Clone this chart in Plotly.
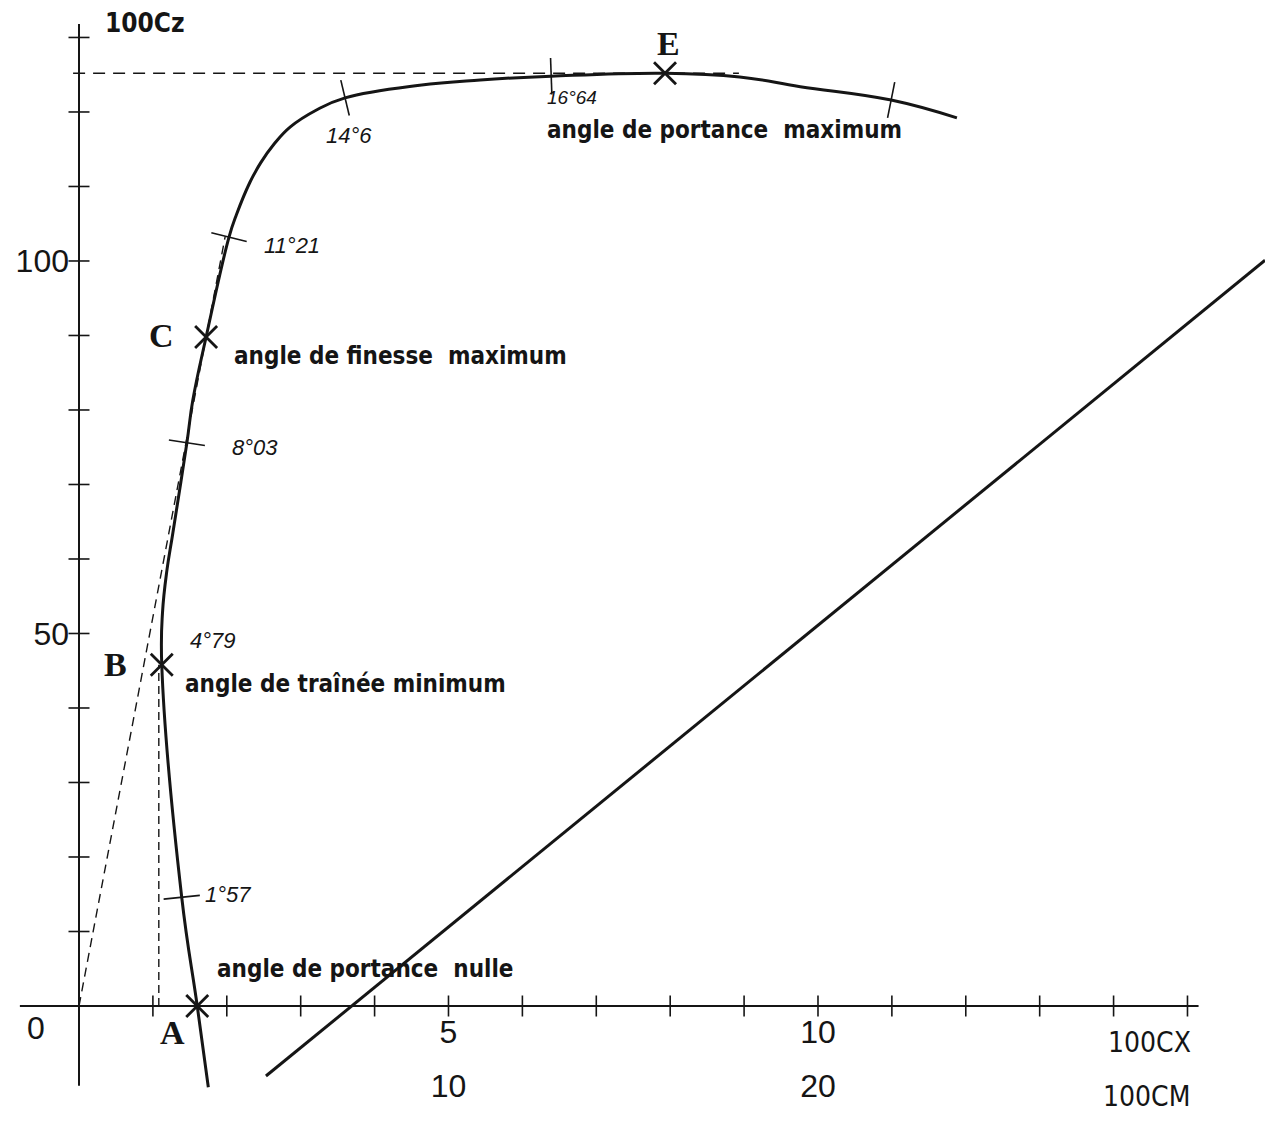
import numpy as np
import plotly.graph_objects as go

# ---------------- data ----------------
# polar curve : 100 Cx (drag) vs 100 Cz (lift)
cx = [1.75, 1.60, 1.39, 1.12, 1.13, 1.19, 1.27, 1.46, 1.54, 1.72, 2.03, 2.13, 2.31,
      2.46, 2.64, 2.86, 3.22, 3.60, 4.61, 5.43, 6.39, 7.93, 8.94, 9.76, 10.99, 11.88]
cz = [-10.9, 0.0, 14.6, 45.8, 52.8, 58.5, 63.5, 75.6, 81.3, 89.8, 103.2, 106.2, 110.5,
      113.2, 115.7, 118.0, 120.3, 121.9, 123.6, 124.3, 124.8, 125.2, 124.7, 123.4, 121.6, 119.2]

# incidence graduations on the polar
tick_cx = [1.39, 1.46, 2.03, 3.60, 6.39, 10.99]
tick_cz = [14.6, 75.6, 103.2, 121.9, 124.8, 121.6]
tick_labels = ["1°57", "8°03", "11°21", "14°6", "16°64", ""]

# remarkable points
pt_names = ["A", "B", "C", "E"]
pt_cx = [1.60, 1.12, 1.72, 7.93]
pt_cz = [0.0, 45.8, 89.8, 125.2]
pt_desc = ["angle de portance  nulle", "angle de traînée minimum",
           "angle de finesse  maximum", "angle de portance  maximum"]
label_479 = "4°79"

# moment line : 100 Cm vs 100 Cz
cm_line = [5.06, 32.1]
cz_line = [-9.4, 100.1]

# axes ticks
x_ticks = list(range(1, 16))
y_ticks = list(range(10, 140, 10))
x_lab_vals, x_lab_text = [5, 10], ["5", "10"]
m_lab_vals, m_lab_text = [10, 20], ["10", "20"]
y_lab_vals, y_lab_text = [50, 100], ["50", "100"]

# ---------------- layout geometry ----------------
W, H = 1265, 1129
xr = [-1.069, 16.049]
yr = [-16.51, 135.03]
sx = W / (xr[1] - xr[0])
sy = H / (yr[1] - yr[0])
xaxis_pos = (0 - yr[0]) / (yr[1] - yr[0])
yaxis_pos = (0 - xr[0]) / (xr[1] - xr[0])

INK = "#151515"
NUM_FONT = "Liberation Sans, Arial, sans-serif"
LETTER_FONT = "DejaVu Sans Condensed, DejaVu Sans"
HAND_FONT = "Liberation Sans, DejaVu Sans"
SERIF = "Liberation Serif, DejaVu Serif"

fig = go.Figure()

# axis lines
fig.add_shape(type="line", xref="x", yref="y", x0=-0.8, x1=15.15, y0=0, y1=0,
              line=dict(color=INK, width=2))
fig.add_shape(type="line", xref="x", yref="y", x0=0, x1=0, y0=-10.7, y1=131.8,
              line=dict(color=INK, width=2))

# tick marks crossing the axes
fig.add_trace(go.Scatter(x=x_ticks, y=[0] * len(x_ticks), mode="markers",
                         marker=dict(symbol="line-ns", size=15, line=dict(color=INK, width=1.6)),
                         hoverinfo="skip"))
fig.add_trace(go.Scatter(x=[0] * len(y_ticks), y=y_ticks, mode="markers",
                         marker=dict(symbol="line-ew", size=15, line=dict(color=INK, width=1.6)),
                         hoverinfo="skip"))

# construction lines (dashed)
iA, iB, iC, iE = 0, 1, 2, 3
fig.add_trace(go.Scatter(x=[-0.08, pt_cx[iE] + 1.0], y=[pt_cz[iE], pt_cz[iE]], mode="lines",
                         line=dict(color=INK, width=1.5, dash="12px,8px"), hoverinfo="skip"))
k = 1.15
fig.add_trace(go.Scatter(x=[0, pt_cx[iC] * k], y=[0, pt_cz[iC] * k], mode="lines",
                         line=dict(color=INK, width=1.4, dash="9px,6px"), hoverinfo="skip"))
fig.add_trace(go.Scatter(x=[pt_cx[iB] - 0.04, pt_cx[iB] - 0.04], y=[0, pt_cz[iB]], mode="lines",
                         line=dict(color=INK, width=1.4, dash="8px,5px"), hoverinfo="skip"))

# polar curve
fig.add_trace(go.Scatter(x=cx, y=cz, mode="lines",
                         line=dict(color=INK, width=3, shape="spline", smoothing=1.2),
                         hoverinfo="skip"))

# moment line (on the Cm axis)
fig.add_trace(go.Scatter(x=cm_line, y=cz_line, xaxis="x2", mode="lines",
                         line=dict(color=INK, width=3), hoverinfo="skip"))

# graduation ticks perpendicular to the curve
angles = []
for tx, tz in zip(tick_cx, tick_cz):
    i = int(np.argmin([(a - tx) ** 2 + ((b - tz) / 10) ** 2 for a, b in zip(cx, cz)]))
    j0, j1 = max(i - 1, 0), min(i + 1, len(cx) - 1)
    dxp = (cx[j1] - cx[j0]) * sx
    dyp = -(cz[j1] - cz[j0]) * sy
    angles.append(float(np.degrees(np.arctan2(dyp, dxp)) + 90))
fig.add_trace(go.Scatter(x=tick_cx, y=tick_cz, mode="markers",
                         marker=dict(symbol="line-ew", size=26, angle=angles,
                                     line=dict(color=INK, width=1.6)),
                         hoverinfo="skip"))

# remarkable points crosses
fig.add_trace(go.Scatter(x=pt_cx, y=pt_cz, mode="markers",
                         marker=dict(symbol="x-thin", size=22, line=dict(color=INK, width=2.8)),
                         hoverinfo="skip"))

# ---------------- annotations ----------------
def ann(text, x, y, size, family, xanchor="left", xref="x", italic=False):
    if italic:
        text = "<i>" + text + "</i>"
    fig.add_annotation(text=text, x=x, y=y, xref=xref, yref="y", showarrow=False,
                       xanchor=xanchor, yanchor="middle",
                       font=dict(size=size, family=family, color=INK))

# incidence labels
lab_pos = [(1.68, 15.0), (2.04, 75.0), (2.48, 102.1), (3.32, 116.9), (6.31, 122.0)]
lab_size = [22, 22, 22, 22, 19]
for t, (x, y), s in zip(tick_labels[:5], lab_pos, lab_size):
    ann(t, x, y, s, HAND_FONT, italic=True)
ann(label_479, 1.47, 49.0, 22, HAND_FONT, italic=True)

# point letters
let_pos = [(1.26, -3.6), (0.49, 45.9), (1.12, 90.0), (7.98, 129.2)]
for t, (x, y) in zip(pt_names, let_pos):
    ann("<b>" + t + "</b>", x, y, 34, SERIF, xanchor="center")

# descriptions
desc_pos = [(1.84, 4.9), (1.41, 43.2), (2.07, 87.3), (6.31, 117.6)]
for t, (x, y) in zip(pt_desc, desc_pos):
    ann("<b>" + t.replace("  ", "\u00a0\u00a0") + "</b>", x, y, 24, LETTER_FONT)

# axis names
ann("0", -0.58, -3.0, 32, NUM_FONT, xanchor="center")
ann("100CX", 14.49, -4.9, 28, LETTER_FONT, xanchor="center")
ann("100CM", 14.45, -12.2, 28, LETTER_FONT, xanchor="center")
ann("<b>100Cz</b>", 0.33, 132.0, 26, LETTER_FONT)

# ---------------- axes ----------------
common = dict(showgrid=False, zeroline=False, showline=False, ticks="",
              tickfont=dict(size=32, family=NUM_FONT, color=INK))
fig.update_layout(
    width=W, height=H, margin=dict(l=0, r=0, t=0, b=0),
    paper_bgcolor="white", plot_bgcolor="white", showlegend=False, hovermode=False,
    xaxis=dict(range=xr, domain=[0, 1], anchor="free", position=xaxis_pos,
               tickvals=x_lab_vals, ticktext=x_lab_text, ticklabelstandoff=4, **common),
    xaxis2=dict(range=[2 * xr[0], 2 * xr[1]], overlaying="x", anchor="free", side="bottom",
                position=xaxis_pos, tickvals=m_lab_vals, ticktext=m_lab_text,
                ticklabelstandoff=58, **common),
    yaxis=dict(range=yr, domain=[0, 1], anchor="free", position=yaxis_pos,
               tickvals=y_lab_vals, ticktext=y_lab_text, ticklabelstandoff=10, **common),
)

fig.write_html("out.html", config={"displayModeBar": False})
